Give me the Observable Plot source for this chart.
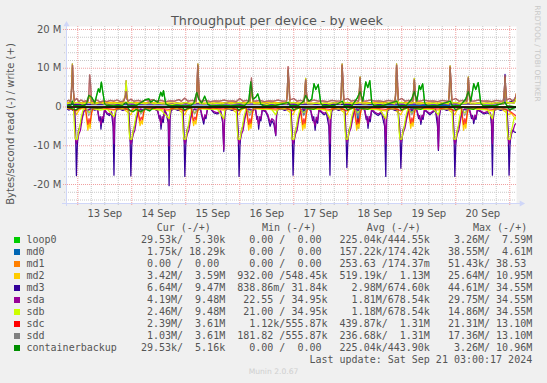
<!DOCTYPE html>
<html><head><meta charset="utf-8">
<script src="https://cdn.jsdelivr.net/npm/d3@7"></script>
<script src="https://cdn.jsdelivr.net/npm/@observablehq/plot@0.6"></script>
<style>
body{margin:0;background:#f0f0f0;}
#root{position:relative;width:547px;height:383px;overflow:hidden;background:#f0f0f0;font-family:"DejaVu Sans";color:#555;}
.abs{position:absolute;white-space:pre;margin:0;}
#legend{font-family:"DejaVu Sans Mono";font-size:10px;line-height:12px;}
</style></head>
<body><div id="root">
<div id="chart" class="abs" style="left:0;top:0"></div>
<div id="title" class="abs" style="left:0;width:554px;top:13px;text-align:center;font-size:12.8px;line-height:15px;color:#555"></div>
<div id="ylabel" class="abs" style="left:-89px;top:118px;width:200px;text-align:center;font-size:10px;line-height:12px;transform:rotate(-90deg);color:#555"></div>
<div id="rrd" class="abs" style="left:487px;top:49px;width:100px;text-align:center;font-size:7.5px;line-height:9px;transform:rotate(90deg);color:#c8c8c8"></div>
<div id="legend" class="abs" style="left:0;top:222px;width:547px;height:140px"></div>
<div id="munin" class="abs" style="left:0;width:547px;top:367px;text-align:center;font-size:7.6px;line-height:9px;color:#cfcfcf"></div>
</div>
<script>
// ---------- text ----------
const titleText = "Throughput per device - by week";
const yLabelText = "Bytes/second read (-) / write (+)";
const rrdText = "RRDTOOL / TOBI OETIKER";
const muninText = "Munin 2.0.67";
const lastUpdate = "Last update: Sat Sep 21 03:00:17 2024";
const yTicks = [-20, -10, 0, 10, 20];
const yTickLabels = ["-20 M", "-10 M", "0", "10 M", "20 M"];
const xTickLabels = ["13 Sep", "14 Sep", "15 Sep", "16 Sep", "17 Sep", "18 Sep", "19 Sep", "20 Sep"];
const headers = ["Cur (-/+)", "Min (-/+)", "Avg (-/+)", "Max (-/+)"];

// ---------- series ----------
const names = ["loop0","md0","md1","md2","md3","sda","sdb","sdc","sdd","containerbackup"];
const colors = ["#00CC00","#0066B3","#FF8000","#FFCC00","#330099","#990099","#CCFF00","#FF0000","#808080","#008F00"];
const curText = [" 29.53k/  5.30k","  1.75k/ 18.29k","  0.00 /  0.00 ","  3.42M/  3.59M","  6.64M/  9.47M","  4.19M/  9.48M","  2.46M/  9.48M","  2.39M/  3.61M","  1.03M/  3.61M"," 29.53k/  5.16k"];
const minText = ["  0.00 /  0.00 ","  0.00 /  0.00 ","  0.00 /  0.00 ","932.00 /548.45k","838.86m/ 31.84k"," 22.55 / 34.95k"," 21.00 / 34.95k","  1.12k/555.87k","181.82 /555.87k","  0.00 /  0.00 "];
const avgText = ["225.04k/444.55k","157.22k/174.42k","253.63 /174.37m","519.19k/  1.13M","  2.98M/674.60k","  1.81M/678.54k","  1.18M/678.54k","439.87k/  1.31M","236.68k/  1.31M","225.04k/443.90k"];
const maxText = ["  3.26M/  7.59M"," 38.55M/  4.61M"," 51.43k/ 38.53 "," 25.64M/ 10.95M"," 44.61M/ 34.55M"," 29.75M/ 34.55M"," 14.86M/ 34.55M"," 21.31M/ 13.10M"," 17.36M/ 13.10M","  3.26M/ 10.96M"];

// values: flat [hour since 13 Sep 00:00 UTC, MB/s, ...]; reads are magnitudes (drawn negative)
const loop0R = [-5,0.05,-3,0.3,-1,0.8,0.5,0.3,2,0.05,10,0.3,12,0.05,22,0.05,23,0.8,24.5,1.2,26,0.6,28,1.2,30,0.5,32,1,33.5,0.2,35,0.05,46.5,0.05,47.5,0.8,49,0.4,51,0.05,70.5,0.05,71.5,0.8,73,0.4,75,0.05,95,0.05,96,0.8,97.5,0.4,99,0.05,105,0.6,106.5,0.05,119,0.05,120,0.8,121.5,0.4,123,0.05,129,0.6,130.5,0.05,143,0.05,144,0.8,145.5,0.4,147,0.05,152.5,0.6,154,0.05,167,0.05,168,0.8,169.5,0.4,171,0.05,176,0.6,177.5,0.05,191,0.05,192,0.8,193.5,0.3,195,0.03];
const loop0W = [-5,0.3,-3,0.5,-2.4,1.5,-1.8,0.4,1,0.3,3,0.4,4,1,4.9,3,6.2,2.5,7.6,1,8.4,3,9.2,4.7,9.8,3.8,10.5,6.4,11.1,4,12,0.8,13,0.4,16,0.3,20,0.5,21.5,1.2,22.5,0.3,26,0.4,30.2,1.9,31.6,2.1,32.4,1.2,33.8,1.8,35.6,1.2,36.9,3.8,37.6,2.8,38.1,4.2,39.1,0.8,40.5,0.3,44,0.4,48,0.3,50.5,0.5,51.6,1,52.9,3.8,53.8,2,55.1,1,56.4,2.8,57.8,0.7,59,0.3,64,0.4,68,0.3,72,0.5,74,0.3,76,1.5,76.9,6.5,77.8,2,79.1,2.5,80,3.4,81.3,0.8,82.5,0.3,88,0.4,93.6,1.2,94.5,0.3,98,0.4,100.4,1.5,101.3,3,102.7,1.5,104,2,105,6,105.8,4.5,106.9,5.8,108,1,109,0.3,114,0.4,117.6,1.5,118.5,0.3,122,0.4,124.4,2.5,125.5,4,126.7,1.5,128,6.5,128.9,5,129.8,6.8,130.7,1,131.8,0.3,136,0.4,141.8,1.5,142.6,0.3,146,0.4,148.4,2,149.6,4,150.7,1.5,151.8,5.5,152.4,4.5,153.3,6,154.2,1,155.2,0.3,160,0.4,165.6,1.5,166.4,0.3,170,0.4,172.4,2,173.6,4,174.7,1.5,176,6,176.9,4.5,178,6.3,179.1,1,180.2,0.3,186,0.4,189.9,1.2,190.8,0.3,195,0.01];
const md0R = [-5,0.05,100,0.05,100.5,2,101,0.05,124,0.05,124.6,5.5,125.2,0.05,148,0.05,148.6,1.5,149.2,0.05,195,0.05];
const md0W = [-5,0.15,60,0.2,120,0.15,165,0.4,166,0.15,195,0.05];
const md1R = [-5,0,195,0];
const md1W = [-5,0,195,0];
const md2R = [-5,0.2,-1.5,0.5,-0.6,2,0.5,0.8,2,0.3,3.4,0.3,4,3.5,4.5,6,5,4,5.5,5.5,6.1,2,6.7,0.3,10,0.5,16,0.8,20,0.3,23.6,2,24.5,0.8,26,0.3,26.6,0.3,27.2,3,27.7,4.8,28.2,3.5,28.7,4.4,29.3,1.8,29.9,0.3,34,0.4,40.6,1,44,0.3,47.6,2,48.5,0.8,50,0.3,50.4,0.3,51,3,51.5,4.8,52,3.5,52.5,4.4,53.1,1.8,53.7,0.3,58,0.4,64.9,0.8,68,0.3,71.7,2,72.6,0.8,74,0.3,74.9,0.3,75.5,3.5,76,6,76.5,4,77,5.5,77.6,2,78.2,0.3,82,0.4,88,0.8,92,0.3,95.7,2,96.6,0.8,98,0.3,98.9,0.3,99.5,3.5,100,6,100.5,4,101,5.5,101.6,2,102.2,0.3,106,0.4,112.1,1,116,0.3,119.6,2,120.5,0.8,122,0.3,122.9,0.3,123.5,3.5,124,6,124.5,4,125,5.5,125.6,2,126.2,0.3,130,0.4,136.9,1,140,0.3,143.6,2,144.5,0.8,146,0.3,146.9,0.3,147.5,3.2,148,5.5,148.5,3.8,149,5,149.6,1.8,150.2,0.3,154,0.4,160.3,0.8,164,0.3,167.6,2,168.5,0.8,170,0.3,170.4,0.3,171,3.5,171.5,6,172,4,172.5,5.5,173.1,2,173.7,0.3,178,0.4,184.3,1,188,0.3,191.7,2,192.6,1.5,195,3.4];
const md2W = [-5,1.1,20,1.2,50,1,80,1.2,110,1,140,1.2,170,1,194,1.1,195,3.6];
const md3R = [-5,0.4,-4,0.8,-3,0.5,-2,0.9,-1.4,0.6,-1,5,-0.6,17.7,-0.2,10,0.3,6,1,5,1.8,3,2.6,1.2,3.4,0.6,4.5,0.9,6,0.5,7.5,0.8,8.8,0.6,9.5,3.5,10,2.5,10.3,5.7,10.8,3,11.3,4,11.9,0.8,13,1.8,14,2.2,15,1.5,15.7,5,16.1,17.6,16.5,3,17,0.8,18.5,0.5,20,0.9,21.5,0.5,22.6,0.8,23.2,6,23.6,17.8,24,10,24.5,6.5,25.2,5,26,3,26.8,1.2,27.6,0.6,29,0.9,30.5,0.4,32,0.7,34,0.5,35.5,1,36.2,3,36.6,2.2,37,5.7,37.5,3,38,4,38.6,0.9,39.3,1.8,40.2,4,40.6,20.3,41,3,41.5,0.8,43,0.5,44.5,0.9,46,0.5,46.8,0.8,47.2,6,47.6,17.9,48,10,48.5,6,49.2,5,50,3,50.8,1.2,51.6,0.6,53,0.8,54.5,0.5,55.2,2.5,56,4.4,56.5,2.5,57,3,57.6,0.7,59,0.5,60.5,1.5,62,1.8,63.5,1.2,64.4,4,64.9,11.5,65.3,2.5,65.8,0.7,67,0.5,68.5,0.9,70,0.5,70.8,0.8,71.3,6,71.7,17.9,72.1,10,72.6,6.5,73.3,5,74.1,3,74.9,1.2,75.7,0.6,77.5,0.9,79,0.6,79.6,3.2,80,2.4,80.4,5.7,80.9,3,81.4,3.6,82,0.8,83.5,1.2,84.5,2.5,85.5,5,86.3,3.5,87.2,4.5,88,7.4,88.4,2,88.9,0.7,90.5,0.5,92,0.9,93.5,0.5,94.8,0.8,95.3,6,95.7,17.6,96.1,10,96.6,6.5,97.3,5,98.1,3,98.9,1.2,99.7,0.6,101,0.8,102.5,0.5,103.5,0.9,104.4,3.5,104.9,2.5,105.5,6,106,3.2,106.6,4.2,107.2,0.8,108.5,1.5,109.5,2,110.5,1.6,111.6,5,112.1,17.6,112.5,3,113,0.8,114.5,0.5,116,0.9,117.5,0.5,118.7,0.8,119.2,6,119.6,15.6,120,9.5,120.5,6,121.2,5,122,3,122.8,1.2,123.6,0.6,125,0.9,126.5,0.5,127.5,0.8,128.2,3.2,128.6,2.4,129,5.5,129.5,3,130,3.8,130.6,0.8,132,1.6,133.5,2.2,135,1.5,136.4,5,136.9,17.9,137.3,3,137.8,0.8,139.5,0.5,141,0.9,142.4,0.6,143.2,6,143.6,15.8,144,9.5,144.5,6,145.2,5,146,3,146.8,1.2,147.6,0.6,149,0.8,150.5,0.5,151.5,3,152,2.2,152.5,4.5,153,2.6,153.5,3.2,154.1,0.8,155.5,1.5,156.5,2,157.5,1.5,159,0.9,159.9,5,160.3,11.2,160.7,2.5,161.2,0.7,162.5,0.5,164,0.9,165.5,0.5,166.7,0.8,167.2,6,167.6,17.9,168,10,168.5,6.5,169.2,5,170,3,170.8,1.2,171.6,0.6,173,0.8,174,0.5,175,3,175.5,2.2,176,4.3,176.5,2.6,177,3.2,177.6,0.8,179,1.2,180.5,1.8,182,1.5,183.4,1.8,183.9,5,184.3,17.6,184.7,3,185.2,0.8,186.5,0.5,188,0.9,189.5,0.5,190.8,0.8,191.3,6,191.7,17.6,192.1,10,192.6,6.5,193.3,6,194.1,6.5,195,6.6];
const md3W = [-5,0.7,60,0.8,120,0.7,189.4,0.8,189.9,8.4,190.4,0.9,195,2];
const sdaR = [-5,0.3,-4,0.6,-3,0.4,-2,0.7,-1.5,0.5,-1.1,8,-0.6,9.5,-0.1,8.5,0.5,7,1.2,6,2,3,2.8,1,3.6,0.5,4.5,0.7,6,0.4,7.5,0.6,8.8,0.5,9.5,2.8,10.3,4.5,10.8,2.5,11.3,3,11.9,0.6,13,1.5,14,1.8,15,1.2,15.7,3,16.1,9.5,16.5,2,17,0.6,18.5,0.4,20,0.7,21.5,0.4,22.5,0.6,23.1,8,23.6,9.5,24.1,8.5,24.7,7,25.4,6,26.2,3,27,1,27.8,0.5,29,0.7,30.5,0.3,32,0.6,34,0.4,35.5,0.8,36.2,2.5,37,4.5,37.5,2.5,38,3,38.6,0.7,39.3,1.5,40.2,3,40.6,10,41,2,41.5,0.6,43,0.4,44.5,0.7,46,0.4,46.6,0.6,47.1,8,47.6,9.5,48.1,8.5,48.7,7,49.4,6,50.2,3,51,1,51.8,0.5,53,0.6,54.5,0.4,55.2,2,56,3.5,56.5,2,57,2.5,57.6,0.6,59,0.4,60.5,1.2,62,1.5,63.5,1,64.4,3,64.9,11,65.3,2,65.8,0.6,67,0.4,68.5,0.7,70,0.4,70.7,0.6,71.2,8,71.7,9.5,72.2,8.5,72.8,7,73.5,6,74.3,3,75.1,1,75.9,0.5,77.5,0.7,79,0.5,79.6,2.6,80.4,4.5,80.9,2.5,81.4,3,82,0.6,83.5,1,84.5,2,85.5,4,86.3,3,87.2,3.5,88,7.2,88.4,1.5,88.9,0.6,90.5,0.4,92,0.7,93.5,0.4,94.7,0.6,95.2,8,95.7,9.5,96.2,8.5,96.8,7,97.5,6,98.3,3,99.1,1,99.9,0.5,101,0.6,102.5,0.4,103.5,0.7,104.4,2.8,105.5,4.8,106,2.6,106.6,3.4,107.2,0.6,108.5,1.2,109.5,1.6,110.5,1.3,111.6,3,112.1,9.5,112.5,2,113,0.6,114.5,0.4,116,0.7,117.5,0.4,118.6,0.6,119.1,7.5,119.6,9,120.1,8,120.7,6.5,121.4,5.5,122.2,3,123,1,123.8,0.5,125,0.7,126.5,0.4,127.5,0.6,128.2,2.6,129,4.4,129.5,2.4,130,3,130.6,0.6,132,1.3,133.5,1.8,135,1.2,136.4,3,136.9,9.5,137.3,2,137.8,0.6,139.5,0.4,141,0.7,142.3,0.5,143.1,7.5,143.6,9,144.1,8,144.7,6.5,145.4,5.5,146.2,3,147,1,147.8,0.5,149,0.6,150.5,0.4,151.5,2.4,152.5,3.6,153,2.1,153.5,2.6,154.1,0.6,155.5,1.2,156.5,1.6,157.5,1.2,159,0.7,159.9,3,160.3,10.9,160.7,2,161.2,0.6,162.5,0.4,164,0.7,165.5,0.4,166.6,0.6,167.1,8,167.6,9.5,168.1,8.5,168.7,7,169.4,6,170.2,3,171,1,171.8,0.5,173,0.6,174,0.4,175,2.4,176,3.4,176.5,2.1,177,2.6,177.6,0.6,179,1,180.5,1.5,182,1.2,183.4,1.5,183.9,3,184.3,9.5,184.7,2,185.2,0.6,186.5,0.4,188,0.7,189.5,0.4,190.6,0.6,191.2,8,191.7,9.5,192.2,8.5,192.8,7,193.5,6,194.3,4.5,195,4.2];
const sdbR = [-5,0.3,-3.5,0.5,-2.2,0.4,-1.9,0.5,-1.4,6,-1,8.3,-0.2,8.3,0.3,6.5,0.9,5,1.6,2.5,2.4,0.6,4,0.5,5,1.5,6.5,0.4,10,0.8,13,0.5,16.1,2.5,17,0.4,20,0.5,22.3,0.5,22.8,6,23.2,8.3,24,8.3,24.5,6.5,25.1,5,25.8,2.5,26.6,0.6,28.2,1.5,30,0.4,34,0.6,37,0.8,40.6,3,41.2,0.4,44,0.5,46.3,0.5,46.8,6,47.2,8.3,48,8.3,48.5,6.5,49.1,5,49.8,2.5,50.6,0.6,52,1.5,54,0.4,58,0.6,62,0.5,64.9,3,65.5,0.4,68,0.5,70.4,0.5,70.9,6,71.3,8.3,72.1,8.3,72.6,6.5,73.2,5,73.9,2.5,74.7,0.6,76.5,1.5,78,0.4,82,0.6,86,0.5,88,2,89,0.4,92,0.5,94.4,0.5,94.9,6,95.3,8.3,96.1,8.3,96.6,6.5,97.2,5,97.9,2.5,98.7,0.6,100.5,1.5,102,0.4,106,0.6,110,0.5,112.1,3,112.8,0.4,116,0.5,118.3,0.5,118.8,6,119.2,8.3,120,8.3,120.5,6.5,121.1,5,121.8,2.5,122.6,0.6,124.5,1.5,126,0.4,130,0.6,134,0.5,136.9,3,137.6,0.4,140,0.5,142.3,0.5,142.8,6,143.2,8.3,144,8.3,144.5,6.5,145.1,5,145.8,2.5,146.6,0.6,148.5,1.5,150,0.4,154,0.6,158,0.5,160.3,2,161,0.4,164,0.5,166.3,0.5,166.8,6,167.2,8.3,168,8.3,168.5,6.5,169.1,5,169.8,2.5,170.6,0.6,172,1.5,174,0.4,178,0.6,182,0.5,184.3,3,185,0.4,188,0.5,190.4,0.5,190.9,6,191.3,8.3,192.1,8.3,192.6,6.5,193.2,5,193.9,3,195,2.5];
const sdbW = [-5,0.8,-3.5,1,-2.9,3,-2.4,11.1,-2,5,-1.6,1,0,1.2,2,0.8,4,1,5.5,3,6,0.9,8,0.8,10,1.1,12,0.7,14,0.9,16,0.8,18,1,20,0.7,21.1,3,21.5,6.8,21.9,3,22.3,1,24,1.2,26,0.8,28,1,30,0.8,32,1.1,34,0.8,36,1,38,0.8,40,0.9,42,0.7,44,1,46,0.8,48,1.2,50,0.8,52.4,1,52.9,4,53.4,11.1,53.8,5,54.2,1,56,0.8,58,1,60,0.8,62,1,64,0.8,66,1.1,68,0.8,70,1,72,1.2,74,0.8,76.5,1,76.9,3,77.3,5,77.7,2,78.1,0.9,80,0.8,82,1,84,0.7,86,1,88,0.8,90,1,92.7,0.8,93.1,4,93.5,9.5,93.9,5,94.3,1,96,1.2,98,0.8,100.5,1,100.9,4,101.3,7.4,101.7,3,102.1,0.9,104,0.8,106,1,108,0.8,110,1,112,0.8,114,1.1,116.7,0.8,117.1,4,117.5,11.1,117.9,5,118.3,1,120,1.2,122,0.8,124.7,1,125.1,4,125.5,7.8,125.9,3,126.3,0.9,128,0.8,130,1,132,0.8,134,1,136,0.8,138,1.1,140.9,0.8,141.3,4,141.7,11.1,142.1,5,142.5,1,144,1.2,146,0.8,148.8,1,149.2,4,149.6,7.4,150,3,150.4,0.9,152,0.8,154,1,156,0.8,158,1,160,0.8,162,1.1,164.7,0.8,165.1,4,165.5,10.6,165.9,5,166.3,1,168,1.2,170,0.8,172.8,1,173.2,4,173.6,7.8,174,3,174.4,0.9,176,0.8,178,1,180,0.8,182,1,184,0.8,186,1.1,189.1,0.8,189.5,3,189.9,7.5,190.3,3,190.7,1,192,1.2,194,1,195,2.5];
const sdcR = [-5,0.1,-0.6,1,0.5,0.4,2,0.1,3.4,0.2,4,2.5,4.5,4.5,5,3,5.5,4.2,6.1,1.5,6.7,0.2,12,0.3,16.1,0.6,20,0.1,23.6,1,25,0.2,26.6,0.2,27.2,2.2,27.7,3.6,28.2,2.6,28.7,3.3,29.3,1.3,29.9,0.2,36,0.3,40.6,0.6,44,0.1,47.6,1,49,0.2,50.4,0.2,51,2.2,51.5,3.6,52,2.6,52.5,3.3,53.1,1.3,53.7,0.2,60,0.3,64.9,0.5,68,0.1,71.7,1,73,0.2,74.9,0.2,75.5,2.5,76,4.5,76.5,3,77,4.2,77.6,1.5,78.2,0.2,84,0.3,88,0.5,92,0.1,95.7,1,97,0.2,98.9,0.2,99.5,2.5,100,4.5,100.5,3,101,4.2,101.6,1.5,102.2,0.2,108,0.3,112.1,0.6,116,0.1,119.6,1,121,0.2,122.9,0.2,123.5,2.5,124,4.5,124.5,3,125,4.2,125.6,1.5,126.2,0.2,132,0.3,136.9,0.6,140,0.1,143.6,1,145,0.2,146.9,0.2,147.5,2.3,148,4.2,148.5,2.8,149,3.9,149.6,1.4,150.2,0.2,156,0.3,160.3,0.5,164,0.1,167.6,1,169,0.2,170.4,0.2,171,2.5,171.5,4.5,172,3,172.5,4.2,173.1,1.5,173.7,0.2,180,0.3,184.3,0.6,188,0.1,191.7,1,193,1.5,195,2.4];
const sddR = [-5,0.1,3.8,0.1,4.3,1,4.8,2.2,5.4,1.8,6.1,0.5,6.8,0.1,27,0.1,27.5,0.9,28,1.8,28.6,1.5,29.3,0.4,29.9,0.1,50.8,0.1,51.3,0.9,51.8,1.8,52.4,1.5,53.1,0.4,53.7,0.1,75.3,0.1,75.8,1,76.3,2.2,76.9,1.8,77.6,0.5,78.2,0.1,99.3,0.1,99.8,1,100.3,2.2,100.9,1.8,101.6,0.5,102.2,0.1,123.3,0.1,123.8,1,124.3,2.2,124.9,1.8,125.6,0.5,126.2,0.1,147.3,0.1,147.8,0.9,148.3,2,148.9,1.6,149.6,0.5,150.2,0.1,170.8,0.1,171.3,1,171.8,2.2,172.4,1.8,173.1,0.5,173.7,0.1,192,0.3,195,1];
const sddW = [-5,1.5,-4,1.7,-3.1,1.4,-2.6,6,-2.3,10.8,-1.9,4,-1.5,1.6,-0.5,2.2,0.5,1.4,1.5,1.8,2.5,1.4,3.5,1.6,4.6,1.5,4.9,3,5.3,8.3,5.7,6,6.1,1.6,7,1.4,8.5,1.8,10,1.3,11.5,1.6,13,1.4,14.5,1.7,16,1.5,17.5,1.8,19,1.4,20.5,1.6,21.1,2.5,21.5,4,21.9,2,22.4,1.5,23.6,2,25,1.5,27,1.7,28.5,1.4,30,1.8,31.5,1.5,33,1.9,35,1.5,37,1.7,39,1.4,41,1.6,43,1.5,45,1.9,46,1.5,47.6,2.3,49,1.5,51,1.7,52.6,1.5,52.9,3,53.3,10.8,53.7,7,54.1,1.8,55,1.5,57,1.7,59,1.4,61,1.6,63,1.5,65,1.8,67,1.5,69,1.6,70.5,1.4,72,2.2,73.5,1.5,75,1.7,76.5,1.6,76.8,3,77.2,7.5,77.6,4,78,1.6,79,1.5,81,1.7,83,1.4,85,1.6,87,1.5,89,1.8,91,1.5,92.8,1.6,93.1,3,93.5,10.4,93.9,6,94.3,1.8,96,2.2,97.5,1.5,99,1.7,100.6,1.5,100.9,3,101.3,7,101.7,3.5,102.1,1.6,103.5,1.5,105,1.8,107,1.5,109,1.6,111,1.4,113,1.7,115,1.5,116.8,1.6,117.1,3,117.5,10.8,117.9,7,118.3,1.8,120,2.2,121.5,1.5,123,1.7,124.8,1.5,125.1,3,125.5,7.5,125.9,4,126.3,1.6,128,1.5,130,1.8,132,1.5,134,1.6,136,1.4,138,1.7,140,1.5,141,1.6,141.3,3,141.7,10.8,142.1,7,142.5,1.8,144,2.2,145.5,1.5,147,1.7,148.9,1.5,149.2,3,149.6,7,150,3.5,150.4,1.6,152,1.5,154,1.8,156,1.5,158,1.6,160,1.4,162,1.7,164,1.5,164.8,1.6,165.1,3,165.5,10.3,165.9,6.5,166.3,1.8,168,2.2,169.5,1.5,171,1.7,172.9,1.5,173.2,3,173.6,7.5,174,4,174.4,1.6,176,1.5,178,1.8,180,1.5,182,1.6,184,1.4,186,1.7,188,1.5,189.1,1.6,189.5,3,189.9,8,190.3,4,190.7,1.8,192,2.2,193.5,1.5,194.5,2.5,195,3.6];
// mirrored devices carry the same curves
const sdaW = sdbW, sdcW = sddW, containerbackupR = loop0R, containerbackupW = loop0W;

const readData = [loop0R, md0R, md1R, md2R, md3R, sdaR, sdbR, sdcR, sddR, containerbackupR];
const writeData = [loop0W, md0W, md1W, md2W, md3W, sdaW, sdbW, sdcW, sddW, containerbackupW];
const opacity = [1, 1, 1, 1, 1, 1, 1, 0.75, 0.7, 0.8];

// ---------- build ----------
const t0 = Date.UTC(2024, 8, 13);
const toDate = h => new Date(t0 + h * 3600000);
const rows = (flat, sign) => {
  const out = [];
  for (let i = 0; i < flat.length; i += 2) out.push({t: toDate(flat[i]), v: sign * flat[i + 1]});
  return out.sort((a, b) => a.t - b.t);
};
const xDomain = [toDate(-5), toDate(195)];
const yDomain = [-24.9, 20.77];
const dayTicks = d3.utcDay.range(xDomain[0], xDomain[1]);
const sixTicks = d3.utcHour.every(6).range(xDomain[0], xDomain[1]).filter(d => d.getUTCHours() !== 0);
const noonTicks = dayTicks.map(d => d3.utcHour.offset(d, 12));
const minorY = d3.range(-24, 21, 2).filter(v => v % 10 !== 0);

const lineMarks = [];
names.forEach((n, i) => {
  lineMarks.push(Plot.line(rows(readData[i], -1), {x: "t", y: "v", stroke: colors[i], strokeWidth: 1.25, strokeOpacity: opacity[i], clip: true}));
  lineMarks.push(Plot.line(rows(writeData[i], 1), {x: "t", y: "v", stroke: colors[i], strokeWidth: 1.25, strokeOpacity: opacity[i], clip: true}));
});

const axisColor = "#CFD6F8";
const chart = Plot.plot({
  width: 547, height: 223,
  marginLeft: 66, marginRight: 31, marginTop: 26, marginBottom: 20,
  style: {background: "transparent", fontFamily: "DejaVu Sans", fontSize: "10px", color: "#555", overflow: "visible"},
  x: {type: "utc", domain: xDomain},
  y: {domain: yDomain},
  marks: [
    Plot.frame({fill: "white", stroke: null}),
    Plot.ruleY(minorY, {stroke: "#c8c8c8", strokeDasharray: "1,1", insetLeft: -2}),
    Plot.ruleX(sixTicks, {stroke: "#c8c8c8", strokeDasharray: "1,1", insetBottom: -2}),
    Plot.ruleY(yTicks, {stroke: "#f0a0a0", strokeDasharray: "1,1", insetLeft: -3}),
    Plot.ruleX(dayTicks, {stroke: "#f0a0a0", strokeDasharray: "1,1", insetBottom: -3}),
    ...lineMarks,
    Plot.ruleY([0], {stroke: "black", strokeWidth: 1.6}),
    Plot.ruleX([xDomain[0]], {stroke: axisColor, insetTop: -2, insetBottom: -3}),
    Plot.ruleY([yDomain[0]], {stroke: axisColor, insetLeft: -4, insetRight: -4}),
    Plot.dot([0], {x: () => xDomain[0], y: () => yDomain[1], symbol: "triangle", r: 2.3, fill: axisColor, stroke: null, dy: -2}),
    Plot.dot([0], {x: () => xDomain[1], y: () => yDomain[0], symbol: "triangle", r: 2.3, fill: axisColor, stroke: null, rotate: 90, dx: 5}),
    Plot.axisY(yTicks, {tickSize: 0, tickPadding: 5, label: null, tickFormat: d => yTickLabels[yTicks.indexOf(d)]}),
    Plot.axisX(noonTicks, {tickSize: 0, tickPadding: 6, label: null, tickFormat: d => xTickLabels[noonTicks.findIndex(n => +n === +d)]})
  ]
});
document.getElementById("chart").appendChild(chart);

document.getElementById("title").textContent = titleText;
document.getElementById("ylabel").textContent = yLabelText;
document.getElementById("rrd").textContent = rrdText;
document.getElementById("munin").textContent = muninText;

// ---------- legend ----------
const legend = document.getElementById("legend");
const cw = 6.02, textLeft = 26.5;
const headerX = [156.7, 262, 366.7, 473];
headers.forEach((h, i) => {
  const s = document.createElement("div");
  s.className = "abs"; s.style.left = headerX[i] + "px"; s.style.top = "0px"; s.textContent = h;
  legend.appendChild(s);
});
names.forEach((n, i) => {
  const top = 12 * (i + 1);
  const sq = document.createElement("div");
  sq.className = "abs";
  Object.assign(sq.style, {left: "14px", top: (top + 3) + "px", width: "6px", height: "6px", background: colors[i]});
  legend.appendChild(sq);
  const line = document.createElement("div");
  line.className = "abs"; line.style.left = textLeft + "px"; line.style.top = top + "px";
  line.textContent = n.padEnd(18) + curText[i] + "  " + minText[i] + "  " + avgText[i] + "  " + maxText[i];
  legend.appendChild(line);
});
const lu = document.createElement("div");
lu.className = "abs"; lu.style.left = (textLeft + 47 * cw) + "px"; lu.style.top = (12 * 11) + "px";
lu.textContent = lastUpdate;
legend.appendChild(lu);
</script>
</body></html>
